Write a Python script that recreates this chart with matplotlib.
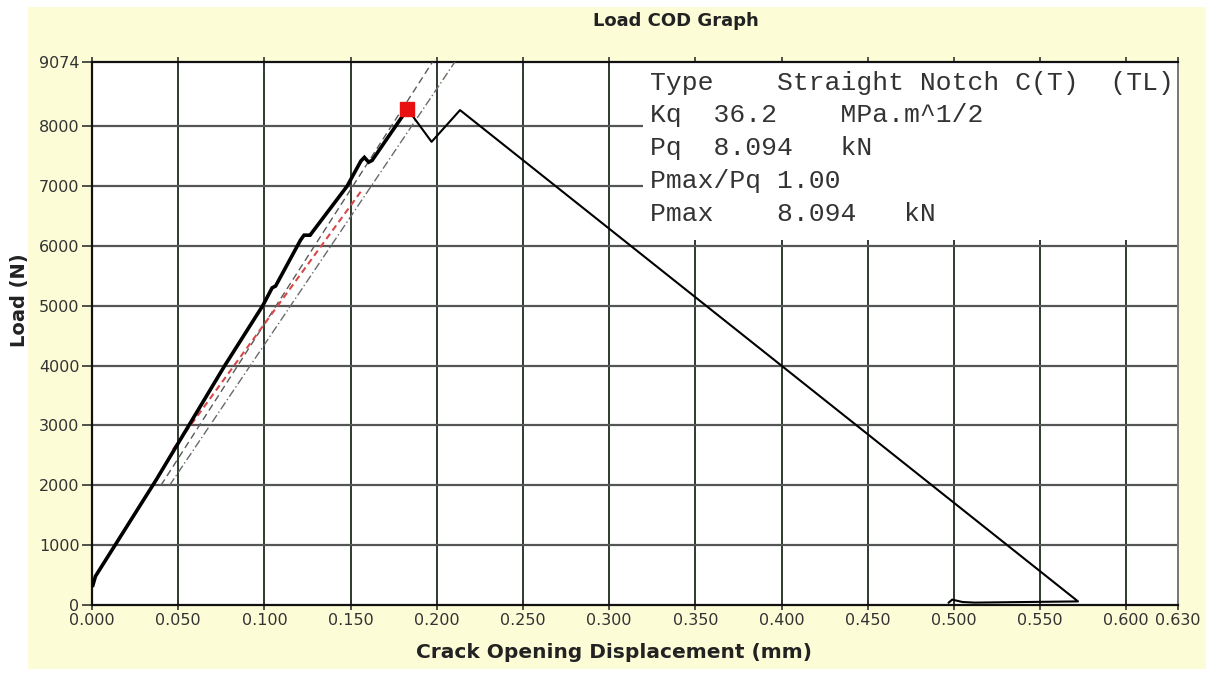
import matplotlib.pyplot as plt
from matplotlib.patches import Rectangle
import numpy as np

# load / crack opening displacement record
cod = [0.0005, 0.002, 0.037, 0.077, 0.099, 0.1045, 0.1065,
       0.121, 0.123, 0.1265, 0.148, 0.156, 0.158, 0.1605, 0.1625, 0.183]
load = [330, 480, 2080, 4000, 5000, 5300, 5330,
        6100, 6180, 6180, 7000, 7420, 7480, 7400, 7430, 8290]

# post-peak part of the record
cod_post = [0.183, 0.197, 0.2135, 0.572, 0.512, 0.505, 0.502, 0.499, 0.497]
load_post = [8290, 7740, 8270, 60, 40, 50, 70, 90, 40]

# peak marker
peak_cod = 0.183
peak_load = 8290

# fitted lines (cod pairs, load pairs)
fit_cod = [0.047, 0.157]
fit_load = [2600, 6950]
sec1_cod = [0.040, 0.1975]
sec1_load = [2000, 9074]
sec2_cod = [0.045, 0.2105]
sec2_load = [2000, 9074]

xticks = [0.000, 0.050, 0.100, 0.150, 0.200, 0.250, 0.300, 0.350,
          0.400, 0.450, 0.500, 0.550, 0.600, 0.630]
yticks = [0, 1000, 2000, 3000, 4000, 5000, 6000, 7000, 8000, 9074]

result_lines = ["Type    Straight Notch C(T)  (TL)",
                "Kq  36.2    MPa.m^1/2",
                "Pq  8.094   kN",
                "Pmax/Pq 1.00",
                "Pmax    8.094   kN"]
result_loads = [8723, 8188, 7637, 7086, 6534]

W, H = 1206, 676
fig = plt.figure(figsize=(W / 100, H / 100), dpi=100, facecolor='white')
fig.patches.append(Rectangle((28 / W, 1 - 669 / H), 1 - 28 / W, (669 - 7) / H,
                             transform=fig.transFigure, facecolor='#fcfcd6',
                             edgecolor='none', zorder=-10))

ax = fig.add_axes([92 / W, 1 - 605 / H, (1178 - 92) / W, (605 - 62) / H])
ax.set_facecolor('white')
ax.set_xlim(0, 0.630)
ax.set_ylim(0, 9074)

# grid
for xv in xticks[1:-1]:
    ax.axvline(xv, color='#2f3a2f', lw=1.4, zorder=1)
for yv in yticks[1:-1]:
    ax.axhline(yv, color='#555555', lw=1.6, zorder=1)

# result panel covers the grid in the upper right
ax.add_patch(Rectangle((0.3196, 6100), 0.630 - 0.3196, 9074 - 6100,
                       facecolor='white', edgecolor='none', zorder=2))
for txt, yv in zip(result_lines, result_loads):
    ax.text(0.3237, yv, txt, family='Liberation Mono', fontsize=19,
            color='#333333', va='center', ha='left', zorder=6)

# fitted lines
ax.plot(sec1_cod, sec1_load, ls=(0, (5, 3)), color='#5a5a5a', lw=1.0, zorder=3)
ax.plot(sec2_cod, sec2_load, ls=(0, (6, 2, 1, 2)), color='#6a6a6a', lw=1.0, zorder=3)
ax.plot(fit_cod, fit_load, ls=(0, (3, 2)), color='#d84848', lw=1.5, zorder=3)

# test record
ax.plot(cod, load, color='black', lw=2.6, solid_joinstyle='miter', zorder=4)
ax.plot(cod_post, load_post, color='black', lw=1.5, zorder=4)
ax.plot([peak_cod], [peak_load], 's', color='#e81010', ms=10, zorder=5)

ax.set_xticks(xticks)
ax.set_xticklabels(['%.3f' % v for v in xticks])
ax.set_yticks(yticks)
ax.set_yticklabels([str(v) for v in yticks])
ax.tick_params(direction='out', length=7, width=1.2, colors='#333333',
               labelsize=11.5, pad=2)
ax.tick_params(axis='x', top=True, direction='inout', length=7)

for side in ['left', 'bottom', 'top']:
    ax.spines[side].set_color('#111111')
    ax.spines[side].set_linewidth(1.6)
ax.spines['right'].set_color('#777777')
ax.spines['right'].set_linewidth(1.4)

fig.text(676 / W, 1 - 21 / H, 'Load COD Graph', ha='center', va='center',
         fontsize=13, fontweight='bold', color='#222222')
fig.text(614 / W, 1 - 652 / H, 'Crack Opening Displacement (mm)', ha='center',
         va='center', fontsize=14.5, fontweight='bold', color='#222222')
fig.text(20 / W, 1 - 300 / H, 'Load (N)', ha='center', va='center',
         rotation=90, fontsize=14, fontweight='bold', color='#222222')

fig.savefig('out.png', dpi=100, facecolor=fig.get_facecolor())
